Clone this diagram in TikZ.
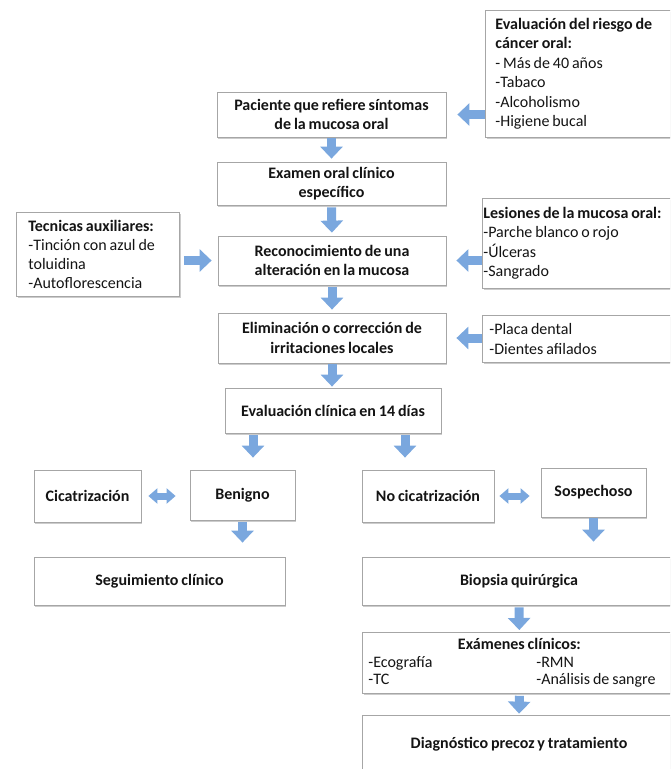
\documentclass[tikz,border=0pt]{standalone}
\usepackage{fontspec}
\setmainfont{Carlito}[WordSpace={0.8,0.5,0.5}]
\usetikzlibrary{arrows.meta,shadows,calc}
\definecolor{boxline}{HTML}{A6A6A6}
\definecolor{arrowblue}{HTML}{7AA7DE}
\begin{document}
\begin{tikzpicture}[x=1pt,y=-1pt,
  box/.style={draw=boxline, line width=0.8pt, fill=white,
    drop shadow={shadow xshift=1.2pt, shadow yshift=-1.6pt, fill=black!40, opacity=0.5},
    inner sep=0pt, text=black!92},
  cbox/.style={box, align=center, font=\fontsize{16}{19.5}\selectfont\bfseries},
  lbox/.style={box, align=flush left, anchor=north west, font=\fontsize{16}{19.5}\selectfont},
  barrow/.style={draw=arrowblue, line width=9pt, -{Triangle[width=22pt,length=12pt]}},
  dbarrow/.style={draw=arrowblue, line width=7pt,
    {Triangle[width=15pt,length=9pt]}-{Triangle[width=15pt,length=9pt]}}
]
\useasboundingbox (0,0) rectangle (670,769);
\clip (0,0) rectangle (670,769);

% right-hand information boxes
\node[lbox, inner xsep=10pt, text width=200pt, minimum height=127pt] (risk) at (485,10)
  {\textbf{Evaluación del riesgo de}\\\textbf{cáncer oral:}\\- Más de 40 años\\-Tabaco\\-Alcoholismo\\-Higiene bucal};
\node[lbox, inner xsep=1pt, text width=216pt, minimum height=90pt] (les) at (482,198)
  {\textbf{Lesiones de la mucosa oral:}\\-Parche blanco o rojo\\-Úlceras\\-Sangrado};
\node[lbox, inner xsep=7pt, text width=204pt, minimum height=47pt] (placa) at (482,315)
  {-Placa dental\\-Dientes afilados};
\node[lbox, inner xsep=12pt, text width=139pt, minimum height=84pt, font=\fontsize{16}{18.8}\selectfont] (tec) at (16,212)
  {\textbf{Tecnicas auxiliares:}\\-Tinción con azul de\\toluidina\\-Autoflorescencia};

% main column
\node[cbox, minimum width=229pt, minimum height=45pt] (pac) at (331.5,114.5)
  {Paciente que refiere síntomas\\de la mucosa oral};
\node[cbox, minimum width=229pt, minimum height=43pt] (exa) at (331.5,183.5)
  {Examen oral clínico\\específico};
\node[cbox, minimum width=228pt, minimum height=49pt] (reco) at (332,260.5)
  {Reconocimiento de una\\alteración en la mucosa};
\node[cbox, minimum width=228pt, minimum height=50pt] (elim) at (332,338)
  {Eliminación o corrección de\\irritaciones locales};
\node[cbox, minimum width=216pt, minimum height=45pt] (ev) at (333,410.5)
  {Evaluación clínica en 14 días};

% branches
\node[cbox, minimum width=107pt, minimum height=52pt] (cic) at (87.5,496) {Cicatrización};
\node[cbox, minimum width=105pt, minimum height=50pt] (ben) at (242.5,495) {Benigno};
\node[cbox, minimum width=132pt, minimum height=52pt] (nocic) at (428,496) {No cicatrización};
\node[cbox, minimum width=105pt, minimum height=49pt] (sosp) at (593.5,492.5) {Sospechoso};
\node[cbox, minimum width=251pt, minimum height=48pt] (seg) at (159.5,581) {Seguimiento clínico};
\node[cbox, minimum width=314pt, minimum height=48pt] (bio) at (519,581) {Biopsia quirúrgica};
\node[lbox, inner xsep=6pt, text width=302pt, minimum height=61pt, font=\fontsize{16}{17.5}\selectfont] (exm) at (362,632)
  {\makebox[\linewidth][c]{\bfseries Exámenes clínicos:}\\
   \makebox[168pt][l]{-Ecografía}-RMN\\
   \makebox[168pt][l]{-TC}-Análisis de sangre};
\node[cbox, minimum width=314pt, minimum height=58pt] (diag) at (519,744)
  {Diagnóstico precoz y tratamiento};

% connectors
\draw[barrow, shorten >=11pt] (risk.west |- pac.east) -- (pac.east);
\draw[barrow, shorten <=1pt, shorten >=3pt] (pac.south) -- (exa.north);
\draw[barrow, shorten <=2pt, shorten >=3pt] (exa.south) -- (reco.north);
\draw[barrow, shorten <=4pt, shorten >=6pt] (tec.east |- reco.west) -- (reco.west);
\draw[barrow, shorten >=10pt] (les.west |- reco.east) -- (reco.east);
\draw[barrow, shorten <=2pt, shorten >=3pt] (reco.south) -- (elim.north);
\draw[barrow, shorten >=10pt] (placa.west |- elim.east) -- (elim.east);
\draw[barrow, shorten <=1pt, shorten >=1pt] (elim.south) -- (elim.south |- ev.north);
\coordinate (e1) at ([xshift=-80pt]ev.south);
\coordinate (e2) at ([xshift=72pt]ev.south);
\draw[barrow, shorten <=2pt, shorten >=12pt] (e1) -- (e1 |- ben.north);
\draw[barrow, shorten <=2pt, shorten >=12pt] (e2) -- (e2 |- nocic.north);
\draw[dbarrow, shorten <=7pt, shorten >=14pt] (cic.east) -- (cic.east -| ben.west);
\draw[dbarrow, shorten <=5pt, shorten >=11pt] (nocic.east) -- (nocic.east -| sosp.west);
\draw[barrow, shorten <=2pt, shorten >=14pt] (ben.south) -- (ben.south |- seg.north);
\draw[barrow, shorten <=1pt, shorten >=15pt] (sosp.south) -- (sosp.south |- bio.north);
\draw[barrow, shorten <=2pt, shorten >=2pt] (bio.south) -- (exm.north);
\draw[barrow, shorten <=2pt, shorten >=1pt] (exm.south) -- (diag.north);
\end{tikzpicture}
\end{document}
